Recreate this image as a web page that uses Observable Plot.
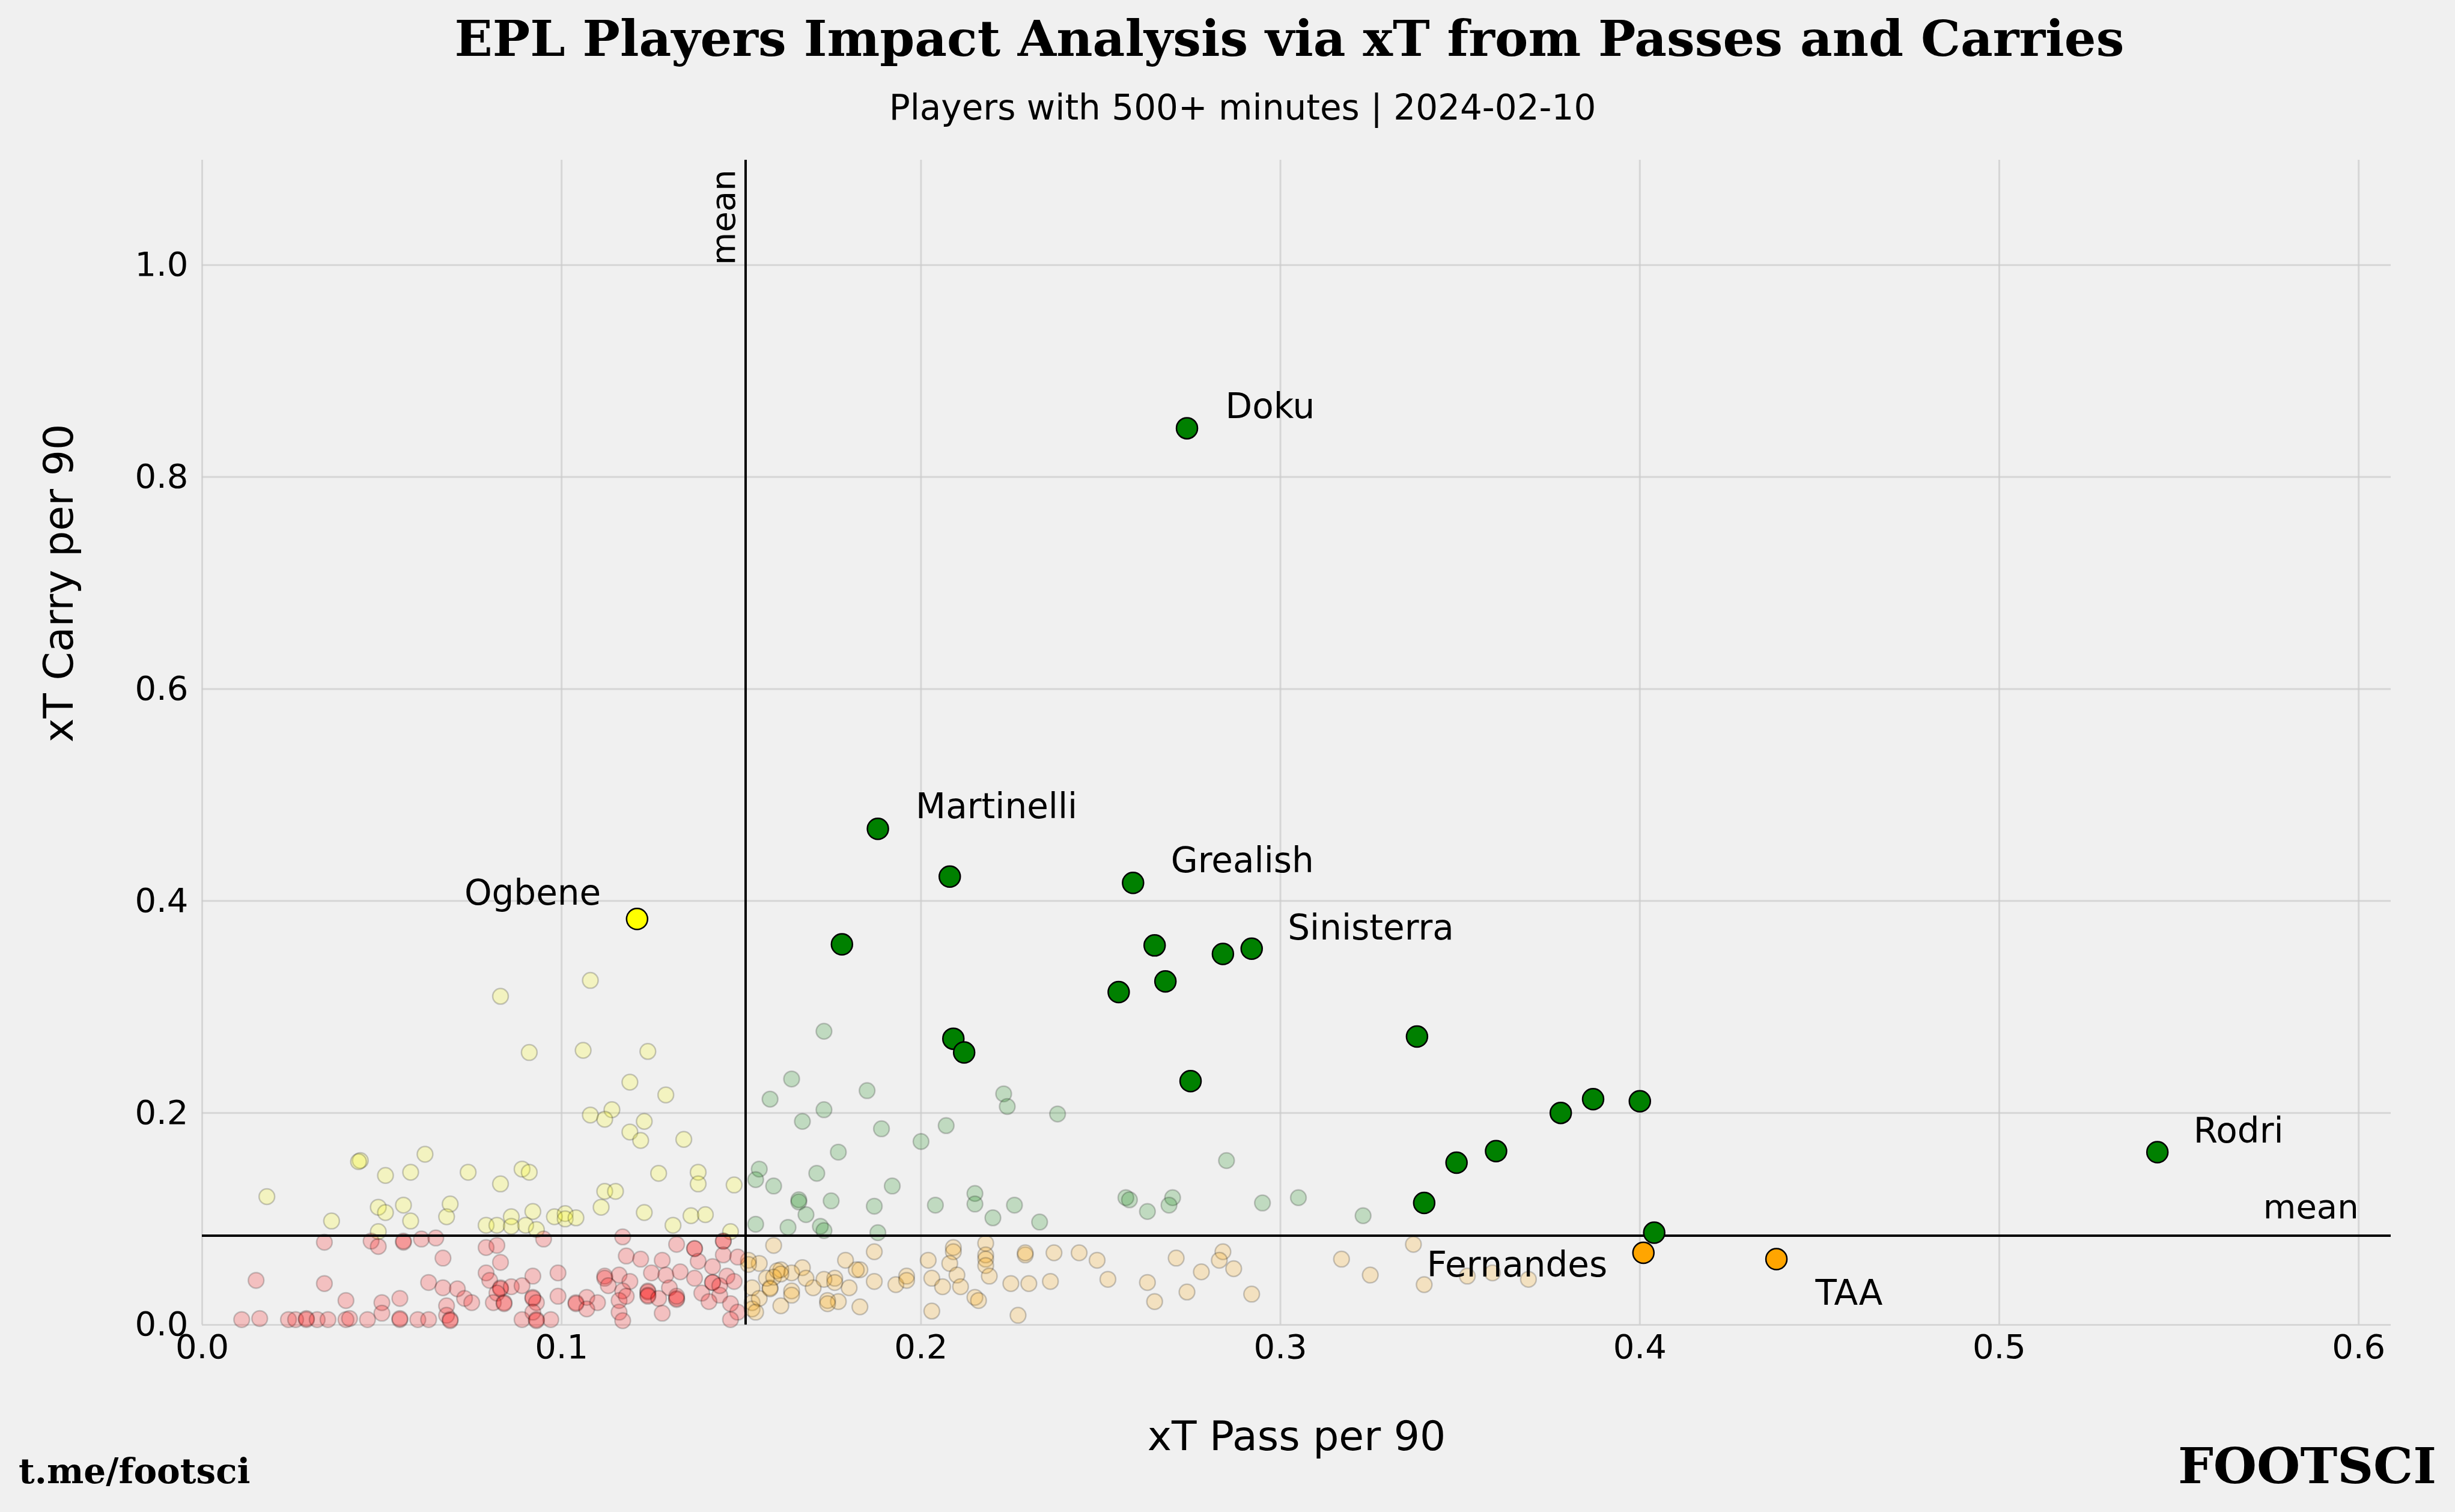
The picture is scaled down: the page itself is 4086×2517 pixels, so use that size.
<!DOCTYPE html>
<html><head><meta charset="utf-8">
<script src="https://cdn.jsdelivr.net/npm/d3@7"></script>
<script src="https://cdn.jsdelivr.net/npm/@observablehq/plot@0.6"></script>
<style>
html,body{margin:0;padding:0;background:#f0f0f0;}
#wrap{position:relative;width:4086px;height:2517px;background:#f0f0f0;overflow:hidden;font-family:"DejaVu Sans";}
.t{position:absolute;white-space:nowrap;line-height:1;color:#000;}
#chart{position:absolute;left:0;top:230px;}
</style></head><body><div id="wrap">
<div class="t" id="title" style="font-family:'DejaVu Serif';font-weight:bold;font-size:83px;top:23px;left:2146px;transform:translateX(-50%);">EPL Players Impact Analysis via xT from Passes and Carries</div>
<div class="t" id="subtitle" style="font-size:58px;top:150px;left:2068px;transform:translateX(-50%);">Players with 500+ minutes | 2024-02-10</div>
<div id="chart"></div>
<div class="t" style="font-family:'DejaVu Serif';font-weight:bold;font-size:58px;top:2420px;left:31px;">t.me/footsci</div>
<div class="t" style="font-family:'DejaVu Serif';font-weight:bold;font-size:83px;top:2399px;right:31px;">FOOTSCI</div>
</div>
<script>
// ---- data ----
const meanPass = 0.1512;
const meanCarry = 0.0841;
const xTicks = [0, 0.1, 0.2, 0.3, 0.4, 0.5, 0.6];
const yTicks = [0, 0.2, 0.4, 0.6, 0.8, 1.0];

// highlighted players
const hiNames = ["Doku","Martinelli","","Grealish","","","","Sinisterra","","","","","","","","","","","","","","Rodri","Fernandes","TAA","Ogbene"];
const hiPass  = [0.274,0.188,0.208,0.259,0.178,0.265,0.284,0.292,0.255,0.268,0.338,0.209,0.212,0.275,0.400,0.387,0.378,0.360,0.349,0.340,0.404,0.544,0.401,0.438,0.121];
const hiCarry = [0.846,0.468,0.423,0.417,0.359,0.358,0.350,0.355,0.314,0.324,0.272,0.270,0.257,0.230,0.211,0.213,0.200,0.164,0.153,0.115,0.087,0.163,0.068,0.062,0.383];

// all other players (faint)
const otherPass = [
 // upper-left
 0.083,0.108,0.091,0.106,0.124,0.119,0.129,0.114,0.108,0.112,0.123,0.119,0.122,0.134,0.044,0.0435,
 0.062,0.051,0.058,0.074,0.089,0.091,0.083,0.127,0.138,0.138,0.148,0.018,0.049,0.051,0.056,0.069,
 0.068,0.036,0.058,0.112,0.115,0.111,0.123,0.092,0.086,0.098,0.101,0.101,0.104,0.136,0.140,0.079,
 0.082,0.086,0.090,0.093,0.131,0.049,0.147,
 // upper-right
 0.158,0.173,0.164,0.185,0.173,0.167,0.189,0.207,0.200,0.177,0.223,0.224,0.238,0.155,0.154,0.159,
 0.171,0.192,0.166,0.166,0.175,0.168,0.187,0.154,0.163,0.172,0.173,0.188,0.204,0.215,0.215,0.226,
 0.220,0.233,0.285,0.257,0.258,0.270,0.269,0.263,0.295,0.305,0.323,
 // lower-right
 0.159,0.187,0.209,0.209,0.218,0.218,0.218,0.218,0.229,0.229,0.237,0.244,0.249,0.202,0.208,0.210,
 0.219,0.203,0.206,0.211,0.225,0.230,0.236,0.252,0.263,0.271,0.278,0.284,0.283,0.287,0.274,0.265,
 0.292,0.215,0.216,0.203,0.227,0.193,0.196,0.196,0.187,0.183,0.182,0.183,0.179,0.177,0.176,0.174,
 0.174,0.170,0.167,0.168,0.164,0.164,0.164,0.161,0.161,0.158,0.157,0.155,0.153,0.153,0.152,0.160,
 0.180,0.173,0.176,0.337,0.317,0.325,0.340,0.352,0.359,0.369,0.152,0.153,0.155,0.159,0.161,0.154,0.158,
 // lower-left
 0.034,0.047,0.049,0.056,0.056,0.061,0.065,0.079,0.082,0.095,0.117,0.132,0.137,0.137,0.145,0.145,
 0.067,0.083,0.118,0.122,0.128,0.138,0.145,0.142,0.149,
 0.015,0.034,0.063,0.079,0.080,0.092,0.099,0.112,0.112,0.116,0.119,0.125,0.129,0.133,0.137,0.142,0.142,0.146,0.148,
 0.067,0.071,0.083,0.083,0.086,0.089,0.082,0.099,0.113,0.117,0.124,0.124,0.130,0.132,0.132,0.139,0.144,0.144,
 0.040,0.050,0.055,0.068,0.073,0.075,0.081,0.084,0.084,0.092,0.092,0.093,0.104,0.104,0.107,0.110,0.116,0.118,0.124,0.124,0.127,0.132,0.141,0.147,
 0.011,0.016,0.024,0.026,0.029,0.029,0.032,0.035,0.040,0.041,0.046,0.050,0.055,0.055,0.060,0.063,0.068,0.069,0.069,0.089,0.092,0.093,0.093,0.097,0.107,0.116,0.117,0.128,0.149,0.147
];
const otherCarry = [
 0.310,0.325,0.257,0.259,0.258,0.229,0.217,0.203,0.198,0.194,0.192,0.182,0.174,0.175,0.155,0.154,
 0.161,0.141,0.144,0.144,0.147,0.144,0.133,0.143,0.144,0.133,0.132,0.121,0.111,0.106,0.113,0.114,
 0.102,0.098,0.098,0.126,0.126,0.111,0.106,0.107,0.102,0.102,0.105,0.100,0.101,0.103,0.104,0.094,
 0.094,0.093,0.094,0.090,0.094,0.088,0.088,
 0.213,0.277,0.232,0.221,0.203,0.192,0.185,0.188,0.173,0.163,0.218,0.206,0.199,0.147,0.137,0.131,
 0.143,0.131,0.118,0.116,0.117,0.104,0.112,0.095,0.092,0.093,0.089,0.087,0.113,0.124,0.114,0.113,
 0.101,0.097,0.155,0.120,0.118,0.120,0.113,0.107,0.115,0.120,0.103,
 0.075,0.069,0.073,0.069,0.077,0.066,0.062,0.056,0.066,0.068,0.068,0.068,0.061,0.061,0.058,0.047,
 0.046,0.044,0.036,0.036,0.039,0.039,0.041,0.043,0.040,0.063,0.050,0.069,0.061,0.053,0.031,0.022,
 0.029,0.026,0.023,0.013,0.009,0.038,0.046,0.042,0.041,0.052,0.052,0.017,0.061,0.022,0.044,0.023,
 0.020,0.035,0.054,0.044,0.049,0.032,0.028,0.052,0.018,0.035,0.044,0.058,0.021,0.015,0.061,0.051,
 0.035,0.043,0.040,0.076,0.062,0.047,0.038,0.046,0.049,0.043,0.057,0.035,0.025,0.045,0.048,0.012,0.034,
 0.078,0.079,0.074,0.078,0.079,0.081,0.082,0.073,0.075,0.081,0.083,0.076,0.072,0.072,0.079,0.079,
 0.063,0.059,0.065,0.062,0.061,0.060,0.066,0.055,0.064,
 0.042,0.039,0.040,0.049,0.042,0.046,0.049,0.046,0.044,0.047,0.041,0.049,0.047,0.050,0.044,0.040,0.040,0.046,0.041,
 0.035,0.034,0.035,0.034,0.036,0.037,0.030,0.027,0.037,0.032,0.032,0.031,0.035,0.025,0.024,0.030,0.028,0.037,
 0.023,0.021,0.025,0.018,0.025,0.021,0.021,0.021,0.020,0.026,0.025,0.021,0.021,0.020,0.026,0.021,0.023,0.027,0.028,0.027,0.025,0.027,0.022,0.020,
 0.005,0.006,0.005,0.005,0.006,0.005,0.005,0.005,0.005,0.006,0.005,0.011,0.005,0.006,0.005,0.005,0.009,0.005,0.004,0.005,0.012,0.005,0.004,0.005,0.015,0.012,0.004,0.011,0.012,0.005
];

// ---- build tables ----
const quadColor = (p, c) => p >= meanPass ? (c >= meanCarry ? "green" : "orange") : (c >= meanCarry ? "yellow" : "red");
const others = otherPass.map((p, i) => ({pass: p, carry: otherCarry[i], color: quadColor(p, otherCarry[i])}));
const highs = hiNames.map((n, i) => ({name: n, pass: hiPass[i], carry: hiCarry[i], color: quadColor(hiPass[i], hiCarry[i])}));

// label placement (pixel offsets from the point)
const labelLayout = {
  Doku: {dx: 64, dy: -35, anchor: "start"},
  Martinelli: {dx: 63, dy: -36, anchor: "start"},
  Grealish: {dx: 63, dy: -36, anchor: "start"},
  Sinisterra: {dx: 60, dy: -34, anchor: "start"},
  Rodri: {dx: 60, dy: -34, anchor: "start"},
  Ogbene: {dx: -60, dy: -42, anchor: "end"},
  Fernandes: {dx: -60, dy: 21, anchor: "end"},
  TAA: {dx: 65, dy: 57, anchor: "start"}
};

const labelMarks = highs.filter(d => d.name).map(d => {
  const L = labelLayout[d.name];
  return Plot.text([d], {x: "pass", y: "carry", text: "name", dx: L.dx, dy: L.dy, textAnchor: L.anchor, lineAnchor: "middle", fontSize: 58, fill: "black"});
});

const chart = Plot.plot({
  width: 4086,
  height: 2287,
  marginLeft: 336,
  marginRight: 107,
  marginTop: 36,
  marginBottom: 312,
  style: {background: "transparent", fontFamily: "DejaVu Sans", color: "black", overflow: "visible"},
  x: {domain: [0, 0.609]},
  y: {domain: [0, 1.099]},
  color: {type: "identity"},
  marks: [
    Plot.gridX(xTicks, {stroke: "#cbcbcb", strokeOpacity: 0.7, strokeWidth: 3}),
    Plot.gridY(yTicks, {stroke: "#cbcbcb", strokeOpacity: 0.7, strokeWidth: 3}),
    Plot.axisX(xTicks, {tickSize: 0, tickPadding: 16, fontSize: 56, tickFormat: d3.format(".1f"), label: null}),
    Plot.axisY(yTicks, {tickSize: 0, tickPadding: 23, fontSize: 56, tickFormat: d3.format(".1f"), label: null}),
    Plot.text(["xT Pass per 90"], {frameAnchor: "bottom", lineAnchor: "bottom", dy: 208, fontSize: 68, fill: "black"}),
    Plot.text(["xT Carry per 90"], {frameAnchor: "left", rotate: -90, lineAnchor: "top", dx: -264, fontSize: 68, fill: "black"}),
    Plot.dot(others, {x: "pass", y: "carry", r: 13, fill: "color", fillOpacity: 0.2, stroke: "black", strokeOpacity: 0.2, strokeWidth: 2.5}),
    Plot.ruleX([meanPass], {stroke: "black", strokeWidth: 4}),
    Plot.ruleY([meanCarry], {stroke: "black", strokeWidth: 4}),
    Plot.text([{x: meanPass, y: 1.0}], {x: "x", y: "y", text: () => "mean", rotate: -90, textAnchor: "start", lineAnchor: "bottom", dx: -18, fontSize: 56, fill: "black"}),
    Plot.text([{x: 0.6, y: meanCarry}], {x: "x", y: "y", text: () => "mean", textAnchor: "end", lineAnchor: "bottom", dy: -29, fontSize: 56, fill: "black"}),
    Plot.dot(highs, {x: "pass", y: "carry", r: 17.5, fill: "color", stroke: "black", strokeWidth: 2.5}),
    ...labelMarks
  ]
});
document.getElementById("chart").appendChild(chart);
</script>
</body></html>
